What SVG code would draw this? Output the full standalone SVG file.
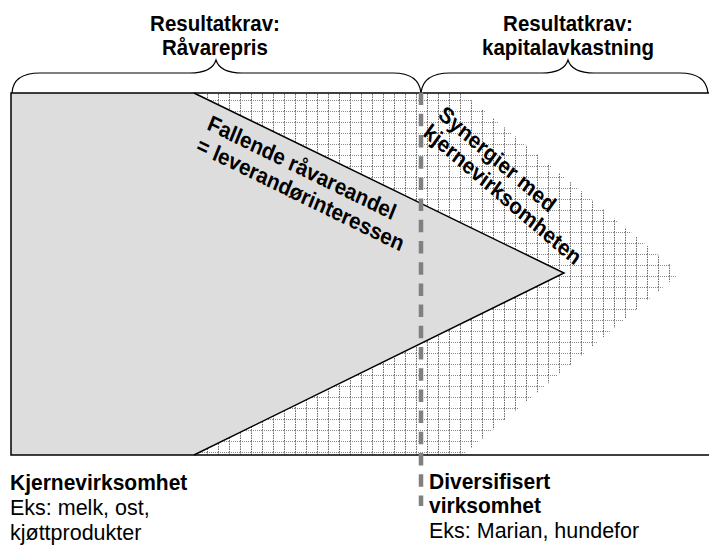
<svg xmlns="http://www.w3.org/2000/svg" width="709" height="545" viewBox="0 0 709 545">
  <style>
    .head { font-family: "Liberation Sans", Arial, sans-serif; font-weight: bold; font-size: 20.5px; fill: #000; text-anchor: middle; }
    .diag { font-family: "Liberation Sans", Arial, sans-serif; font-weight: bold; font-size: 20.5px; fill: #000; }
    .bold { font-family: "Liberation Sans", Arial, sans-serif; font-weight: bold; font-size: 21px; fill: #000; }
    .plain { font-family: "Liberation Sans", Arial, sans-serif; font-size: 21.5px; fill: #000; }
    .brace { fill: none; stroke: #000; stroke-width: 1.2; }
    .edge { fill: none; stroke: #000; stroke-width: 1.5; }
    .split { fill: none; stroke: #808080; stroke-width: 4.5; stroke-dasharray: 12.5 8.7; }
  </style>
  <defs>
    <!-- dotted square grid used for the diversified area -->
    <pattern id="grid" patternUnits="userSpaceOnUse" x="9" y="1" width="11" height="11">
      <path d="M0.5 0V11" stroke="#666" stroke-width="1" stroke-dasharray="1.5 1"/>
      <path d="M0 0.5H11" stroke="#8a8a8a" stroke-width="1" stroke-dasharray="1 1"/>
    </pattern>
  </defs>

  <!-- headings -->
  <g id="head-left">
    <text class="head" transform="translate(215,31) scale(1,1.1)">Resultatkrav:</text>
    <text class="head" transform="translate(215,55) scale(1,1.1)">Råvarepris</text>
  </g>
  <g id="head-right">
    <text class="head" transform="translate(568,31) scale(1,1.1)">Resultatkrav:</text>
    <text class="head" transform="translate(568,55) scale(1,1.1)">kapitalavkastning</text>
  </g>

  <!-- braces over the two zones -->
  <g id="braces">
    <path class="brace" d="M12 93 Q13 73 40 73 L190 73 Q212 73 216 60 Q220 73 242 73 L393 73 Q419 73 421 93"/>
    <path class="brace" d="M421 93 Q423 73 450 73 L542 73 Q564 73 568 60 Q572 73 594 73 L680 73 Q706 73 708 93"/>
  </g>

  <!-- diversified area: dotted grid wedge -->
  <g id="diversified">
    <polygon points="195,93 463,93 680,273 463,455 195,455" fill="url(#grid)"/>
  </g>

  <!-- core business wedge -->
  <g id="core">
    <polygon points="11,93 194,93 564,273 194,455 11,455" fill="#dddddd"/>
    <path class="edge" d="M194 93 L564 273 L194 455" stroke-width="1.2"/>
  </g>

  <!-- frame -->
  <g id="frame">
    <path class="edge" d="M709 93 H11 V455 H709"/>
  </g>

  <!-- boundary between the two zones -->
  <g id="connectors">
    <line class="split" x1="421" y1="92.6" x2="421" y2="506"/>
  </g>

  <!-- slanted labels -->
  <g id="label-core-share">
    <text class="diag" transform="translate(206,129) scale(1,1.1) rotate(24)">Fallende råvareandel</text>
    <text class="diag" transform="translate(195,151) scale(1,1.1) rotate(24)">= leverandørinteressen</text>
  </g>
  <g id="label-synergy">
    <text class="diag" transform="translate(437,117) scale(1,1.1) rotate(38)">Synergier med</text>
    <text class="diag" transform="translate(422,135) scale(1,1.1) rotate(38)">kjernevirksomheten</text>
  </g>

  <!-- captions below -->
  <g id="caption-core">
    <text class="bold" transform="translate(10,490) scale(1,1.06)">Kjernevirksomhet</text>
    <text class="plain" transform="translate(10,515) scale(1,1.06)">Eks: melk, ost,</text>
    <text class="plain" transform="translate(10,540) scale(1,1.06)">kjøttprodukter</text>
  </g>
  <g id="caption-diversified">
    <text class="bold" transform="translate(429,489) scale(1,1.06)">Diversifisert</text>
    <text class="bold" transform="translate(429,513) scale(1,1.06)">virksomhet</text>
    <text class="plain" transform="translate(429,538) scale(1,1.06)">Eks: Marian, hundefor</text>
  </g>
</svg>
